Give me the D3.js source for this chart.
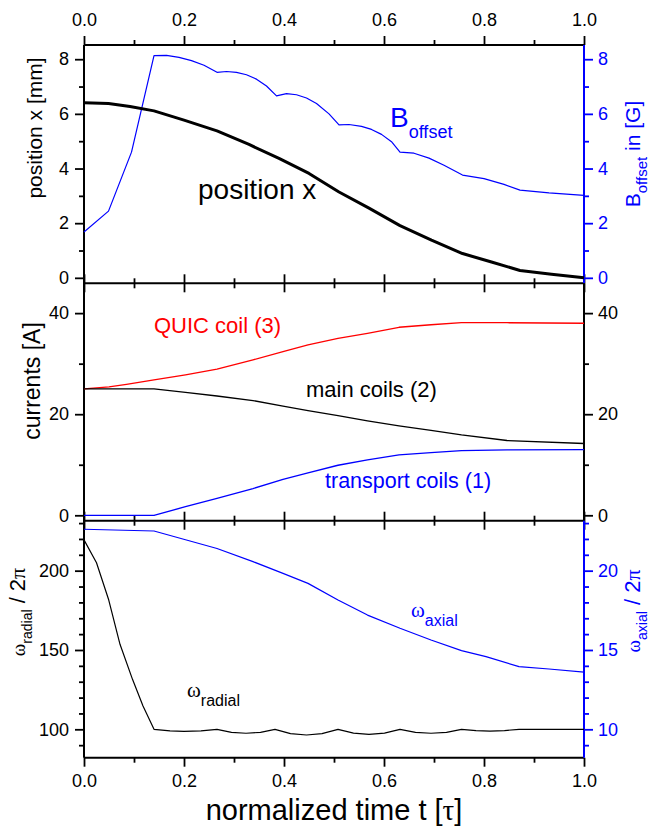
<!DOCTYPE html>
<html><head><meta charset="utf-8">
<script src="https://cdn.jsdelivr.net/npm/d3@7"></script>
<style>
body{margin:0;background:#fff}
svg{display:block}
text{font-family:"Liberation Sans",Arial,sans-serif}
.serif{font-family:"Liberation Serif","DejaVu Serif",serif}
</style>
</head><body>
<svg id="c" width="663" height="827"></svg>
<script>
// ---------- data ----------
const xMajor = [0, 0.2, 0.4, 0.6, 0.8, 1.0];
const xMinor = [0.1, 0.3, 0.5, 0.7, 0.9];

const tPos = [0, 0.049, 0.092, 0.14, 0.2, 0.266, 0.33, 0.39, 0.45, 0.51, 0.57, 0.632, 0.695, 0.757, 0.815, 0.872, 0.935, 1.0];
const posX = [6.41, 6.38, 6.27, 6.11, 5.77, 5.38, 4.88, 4.37, 3.82, 3.14, 2.55, 1.91, 1.38, 0.89, 0.58, 0.27, 0.13, 0.0];

const tB = [0, 0.049, 0.095, 0.14, 0.165, 0.19, 0.215, 0.24, 0.266, 0.285, 0.305, 0.325, 0.345, 0.365, 0.385, 0.405, 0.425, 0.445, 0.465, 0.49, 0.51, 0.53, 0.555, 0.575, 0.595, 0.615, 0.632, 0.66, 0.69, 0.72, 0.757, 0.8, 0.84, 0.872, 0.93, 1.0];
const bOffset = [1.68, 2.44, 4.6, 8.13, 8.14, 8.07, 7.95, 7.78, 7.52, 7.55, 7.52, 7.43, 7.27, 7.02, 6.66, 6.74, 6.7, 6.58, 6.38, 6.0, 5.6, 5.61, 5.54, 5.43, 5.25, 4.98, 4.6, 4.56, 4.38, 4.12, 3.76, 3.63, 3.42, 3.21, 3.11, 3.02];

const tCur = [0, 0.05, 0.085, 0.14, 0.203, 0.266, 0.338, 0.398, 0.448, 0.508, 0.567, 0.63, 0.694, 0.755, 0.846, 1.0];
const quicCoil = [25.0, 25.4, 25.9, 26.8, 27.8, 28.9, 30.75, 32.4, 33.7, 35.0, 36.0, 37.2, 37.7, 38.1, 38.1, 38.0];
const mainCoils = [25.0, 25.0, 25.0, 25.0, 24.3, 23.6, 22.7, 21.6, 20.7, 19.7, 18.7, 17.7, 16.8, 15.9, 14.8, 14.2];
const transportCoils = [0, 0, 0, 0, 1.7, 3.35, 5.3, 7.1, 8.4, 9.9, 10.95, 11.94, 12.4, 12.8, 12.93, 13.0];

const tRad = [0, 0.025, 0.049, 0.072, 0.097, 0.118, 0.14, 0.172, 0.2, 0.234, 0.266, 0.295, 0.324, 0.353, 0.382, 0.413, 0.445, 0.476, 0.508, 0.539, 0.57, 0.601, 0.632, 0.663, 0.694, 0.725, 0.755, 0.784, 0.812, 0.841, 0.87, 1.0];
const omegaRadial = [219.4, 205, 182, 153.6, 131.5, 114.7, 100, 99.0, 98.7, 99.0, 100, 98.1, 97.5, 98.1, 100, 97.3, 96.4, 97.3, 100, 97.6, 96.8, 97.6, 100, 98.1, 97.5, 98.1, 100, 99.2, 98.9, 99.2, 100, 100];

const tAx = [0, 0.14, 0.203, 0.266, 0.338, 0.398, 0.448, 0.508, 0.567, 0.632, 0.694, 0.755, 0.804, 0.87, 0.93, 1.0];
const omegaAxial = [22.61, 22.5, 21.95, 21.4, 20.57, 19.83, 19.2, 18.15, 17.2, 16.37, 15.63, 14.96, 14.58, 13.95, 13.8, 13.61];

const p1Major = [0, 2, 4, 6, 8], p1Minor = [1, 3, 5, 7];
const p2Major = [0, 20, 40], p2Minor = [10, 30];
const p3LMajor = [100, 150, 200], p3LMinor = [90, 110, 120, 130, 140, 160, 170, 180, 190, 210, 220, 230];
const p3RMajor = [10, 15, 20], p3RMinor = [9, 11, 12, 13, 14, 16, 17, 18, 19, 21, 22, 23];

// ---------- layout ----------
const BLUE = "#0000ff", RED = "#ff0000", BLACK = "#000";
const L = 84, R = 584;
const T1 = 45, B1 = 283.3, B2 = 520.7, B3 = 757.7;
const svg = d3.select("#c");

const x = d3.scaleLinear().domain([0, 1]).range([L, R]);
const y1 = d3.scaleLinear().domain([-0.2, 8.52]).range([B1, T1]);
const y2 = d3.scaleLinear().domain([-1.07, 45.9]).range([B2, B1]);
const y3 = d3.scaleLinear().domain([82.1, 231.5]).range([B3, B2]);
const y3r = d3.scaleLinear().domain([8.21, 23.15]).range([B3, B2]);

const FS = 18;
function drawAxis(orient, scale, pos, majors, minors, fmt, color, labels, pad) {
  const mk = {left: d3.axisLeft, right: d3.axisRight, top: d3.axisTop, bottom: d3.axisBottom}[orient];
  const tr = (orient === "left" || orient === "right") ? `translate(${pos},0)` : `translate(0,${pos})`;
  const gMin = svg.append("g").attr("transform", tr)
    .call(mk(scale).tickValues(minors).tickSize(5).tickSizeOuter(0).tickFormat(""));
  const gMaj = svg.append("g").attr("transform", tr)
    .call(mk(scale).tickValues(majors).tickSize(9).tickSizeOuter(0).tickPadding(pad).tickFormat(labels ? fmt : ""));
  [gMin, gMaj].forEach(g => {
    g.select(".domain").remove();
    g.attr("font-family", null).attr("font-size", null);
    g.selectAll("line").attr("stroke", color).attr("stroke-width", 1.8);
    g.selectAll("text").attr("fill", color).style("font-size", FS + "px");
  });
}
const fx = d3.format(".1f"), fi = d3.format("d");

// x axes on every panel edge
drawAxis("top", x, T1, xMajor, xMinor, fx, BLACK, true, 10);
drawAxis("bottom", x, B1, xMajor, xMinor, fx, BLACK, false, 6);
drawAxis("top", x, B1, xMajor, xMinor, fx, BLACK, false, 6);
drawAxis("bottom", x, B2, xMajor, xMinor, fx, BLACK, false, 6);
drawAxis("top", x, B2, xMajor, xMinor, fx, BLACK, false, 6);
drawAxis("bottom", x, B3, xMajor, xMinor, fx, BLACK, true, 8);

// y axes
drawAxis("left", y1, L, p1Major, p1Minor, fi, BLACK, true, 6);
drawAxis("right", y1, R, p1Major, p1Minor, fi, BLUE, true, 5);
drawAxis("left", y2, L, p2Major, p2Minor, fi, BLACK, true, 6);
drawAxis("right", y2, R, p2Major, p2Minor, fi, BLACK, true, 5);
drawAxis("left", y3, L, p3LMajor, p3LMinor, fi, BLACK, true, 6);
drawAxis("right", y3r, R, p3RMajor, p3RMinor, fi, BLUE, true, 5);

// frame lines
const fr = svg.append("g").attr("stroke-width", 2).attr("fill", "none");
[T1, B1, B2, B3].forEach(yy => fr.append("line").attr("x1", L).attr("x2", R).attr("y1", yy).attr("y2", yy).attr("stroke", BLACK));
fr.append("line").attr("x1", L).attr("x2", L).attr("y1", T1).attr("y2", B3).attr("stroke", BLACK);
fr.append("line").attr("x1", R).attr("x2", R).attr("y1", T1).attr("y2", B1).attr("stroke", BLUE);
fr.append("line").attr("x1", R).attr("x2", R).attr("y1", B1).attr("y2", B2).attr("stroke", BLACK);
fr.append("line").attr("x1", R).attr("x2", R).attr("y1", B2).attr("y2", B3).attr("stroke", BLUE);

// data lines
function series(ts, vs, ys, color, w) {
  const data = ts.map((t, i) => [t, vs[i]]);
  svg.append("path").datum(data)
    .attr("d", d3.line().x(d => x(d[0])).y(d => ys(d[1])))
    .attr("fill", "none").attr("stroke", color).attr("stroke-width", w)
    .attr("stroke-linejoin", "round");
}
series(tB, bOffset, y1, BLUE, 1.2);
series(tPos, posX, y1, BLACK, 3);
series(tCur, quicCoil, y2, RED, 1.3);
series(tCur, mainCoils, y2, BLACK, 1.3);
series(tCur, transportCoils, y2, BLUE, 1.3);
series(tAx, omegaAxial, y3r, BLUE, 1.2);
series(tRad, omegaRadial, y3, BLACK, 1.2);

// annotations
function txt(xx, yy, s, size, color, anchor) {
  return svg.append("text").attr("x", xx).attr("y", yy).attr("fill", color)
    .style("font-size", size + "px").attr("text-anchor", anchor || "start").text(s);
}
txt(198, 199, "position x", 28, BLACK);
{
  const t = svg.append("text").attr("x", 390).attr("y", 127).attr("fill", BLUE);
  t.append("tspan").style("font-size", "28px").text("B");
  t.append("tspan").style("font-size", "18px").attr("dy", 11).text("offset");
}
txt(154, 333, "QUIC coil (3)", 22, RED);
txt(306, 397, "main coils (2)", 22, BLACK);
txt(325, 488, "transport coils (1)", 21.5, BLUE);
{
  const t = svg.append("text").attr("x", 411).attr("y", 617).attr("fill", BLUE);
  t.append("tspan").attr("class", "serif").style("font-size", "21px").text("ω");
  t.append("tspan").style("font-size", "16px").attr("dy", 9).text("axial");
}
{
  const t = svg.append("text").attr("x", 187).attr("y", 697).attr("fill", BLACK);
  t.append("tspan").attr("class", "serif").style("font-size", "21px").text("ω");
  t.append("tspan").style("font-size", "16px").attr("dy", 9).text("radial");
}

// axis titles
svg.append("text").attr("transform", "translate(42,128) rotate(-90)").attr("text-anchor", "middle")
  .style("font-size", "21px").attr("fill", BLACK).text("position x [mm]");
svg.append("text").attr("transform", "translate(40,381) rotate(-90)").attr("text-anchor", "middle")
  .style("font-size", "23px").attr("fill", BLACK).text("currents [A]");
{
  const t = svg.append("text").attr("transform", "translate(640,154) rotate(-90)").attr("text-anchor", "middle").attr("fill", BLUE);
  t.append("tspan").style("font-size", "21px").text("B");
  t.append("tspan").style("font-size", "15px").attr("dy", 7).text("offset");
  t.append("tspan").style("font-size", "21px").attr("dy", -7).text(" in [G]");
}
{
  const t = svg.append("text").attr("transform", "translate(25,612) rotate(-90)").attr("text-anchor", "middle").attr("fill", BLACK);
  t.append("tspan").attr("class", "serif").style("font-size", "19px").text("ω");
  t.append("tspan").style("font-size", "14px").attr("dy", 7).text("radial");
  t.append("tspan").style("font-size", "22px").attr("dy", -7).text(" / 2");
  t.append("tspan").attr("class", "serif").style("font-size", "22px").text("π");
}
{
  const t = svg.append("text").attr("transform", "translate(640,611) rotate(-90)").attr("text-anchor", "middle").attr("fill", BLUE);
  t.append("tspan").attr("class", "serif").style("font-size", "19px").text("ω");
  t.append("tspan").style("font-size", "14px").attr("dy", 7).text("axial");
  t.append("tspan").style("font-size", "22px").attr("dy", -7).text(" / 2");
  t.append("tspan").attr("class", "serif").style("font-size", "22px").text("π");
}
{
  const t = svg.append("text").attr("x", (L + R) / 2).attr("y", 820).attr("text-anchor", "middle").attr("fill", BLACK)
    .style("font-size", "29px");
  t.append("tspan").text("normalized time t [");
  t.append("tspan").attr("class", "serif").text("τ");
  t.append("tspan").text("]");
}
</script>
</body></html>
